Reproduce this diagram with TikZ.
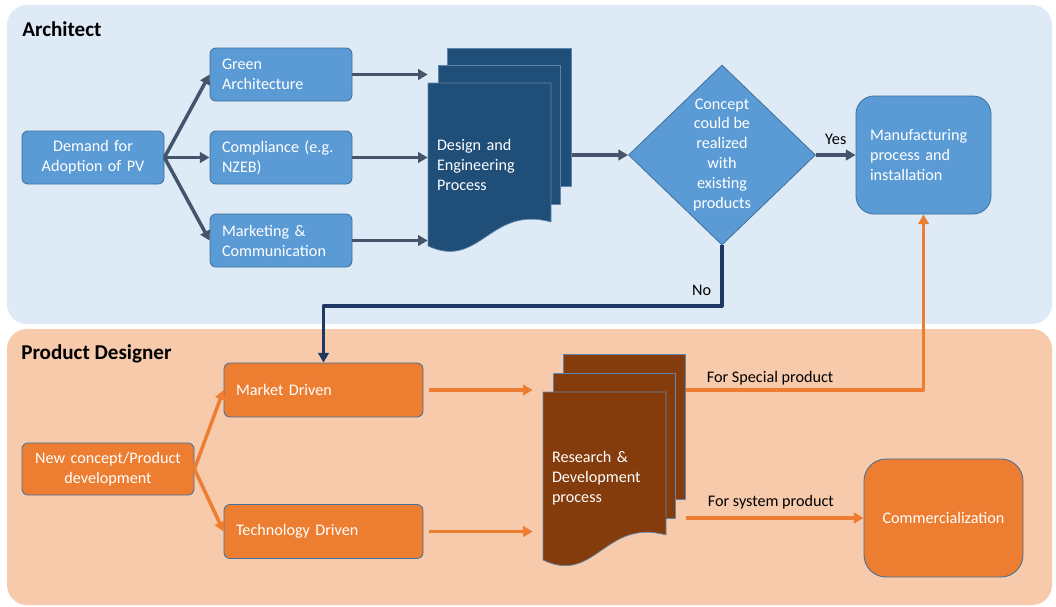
\documentclass[tikz,border=0pt]{standalone}
\usepackage{fontspec}
\setmainfont{Carlito}
\usetikzlibrary{arrows.meta,shapes.geometric}
\newlength{\px}\setlength{\px}{0.025cm}
\definecolor{archpanel}{HTML}{DEEAF6}
\definecolor{prodpanel}{HTML}{F7CAAC}
\definecolor{boxblue}{HTML}{5B9BD5}
\definecolor{boxline}{HTML}{41719C}
\definecolor{sheetblue}{HTML}{1F4E79}
\definecolor{sheetbrown}{HTML}{843C0C}
\definecolor{flowgray}{HTML}{44546A}
\definecolor{flownavy}{HTML}{1F3864}
\definecolor{floworange}{HTML}{ED7D31}
\tikzset{
  txt/.style={font=\fontsize{11.5}{14.2}\selectfont},
  archbox/.style={txt, draw=boxline, fill=boxblue, text=white, line width=0.6pt,
    rounded corners=6\px, inner xsep=12\px, inner ysep=0pt},
  prodbox/.style={archbox, fill=floworange},
  sheet/.style={draw=boxline!85, line width=0.5pt, anchor=north west, inner sep=0pt},
  archflow/.style={draw=flowgray, line width=2.5pt, -{Triangle[length=0.24cm, width=0.26cm]}},
  prodflow/.style={archflow, draw=floworange},
  noflow/.style={archflow, draw=flownavy, line width=2.8pt},
  title/.style={font=\fontsize{15}{18}\selectfont\bfseries, anchor=base west, inner sep=0pt}
}
\begin{document}
\begin{tikzpicture}[x=0.025cm, y=-0.025cm, line join=round]
  \useasboundingbox (0,0) rectangle (1056,606);
  % los fondos
  \fill[archpanel, rounded corners=0.5cm] (7,5) rectangle (1052,324);
  \fill[prodpanel, rounded corners=0.5cm] (7,329) rectangle (1052,605);
  \node[title] (archtitle) at (22,36) {Architect};
  \node[title] (prodtitle) at (21,359) {Product Designer};
  % arquitecto: las cajas
  \node[archbox, text width=118\px, align=center, minimum height=53\px] (demand) at (93,157.5) {Demand for\\Adoption of PV};
  \node[archbox, text width=118\px, align=left, minimum height=53\px] (green) at (281,74.5) {Green\\Architecture};
  \node[archbox, text width=118\px, align=left, minimum height=53\px] (comply) at (281,157.5) {Compliance (e.g.\\NZEB)};
  \node[archbox, text width=118\px, align=left, minimum height=53\px] (marketing) at (281,240.5) {Marketing \&\\Communication};
  % las hojas del proceso de diseño
  \node[sheet, fill=sheetblue, minimum width=124\px, minimum height=138\px] (designback) at (447,48) {};
  \node[sheet, fill=sheetblue, minimum width=122\px, minimum height=139\px] (designmid) at (438,65) {};
  \filldraw[sheet, fill=sheetblue] (428,83) -- (551,83) -- (551,222)
    .. controls (490,205) and (480,270) .. (428,246) -- cycle;
  \node[txt, text=white, text width=105\px, align=left, minimum width=123\px, inner xsep=9\px] (design) at (489.5,165) {Design and\\Engineering\\Process};
  % la decisión y la fabricación
  \node[txt, diamond, aspect=1, draw=boxline, fill=boxblue, text=white, line width=0.6pt, inner sep=0pt,
    minimum width=187\px, minimum height=180\px, align=center] (concept) at (722,155)
    {Concept\\could be\\realized\\with\\existing\\products};
  \node[archbox, rounded corners=18\px, text width=107\px, inner xsep=14\px, align=left, minimum height=118\px] (manuf) at (923.5,155) {Manufacturing\\process and\\installation};
  % diseñador de producto: las cajas
  \node[prodbox, text width=156\px, inner xsep=8\px, align=center, minimum height=52\px] (newconcept) at (108,469) {New concept/Product\\development};
  \node[prodbox, text width=175\px, align=left, minimum height=54\px] (market) at (323.5,390) {Market Driven};
  \node[prodbox, text width=175\px, align=left, minimum height=54\px] (tech) at (323.5,531.5) {Technology Driven};
  % las hojas de investigación
  \node[sheet, fill=sheetbrown, minimum width=122\px, minimum height=145\px] (rdback) at (563,354) {};
  \node[sheet, fill=sheetbrown, minimum width=122\px, minimum height=145\px] (rdmid) at (553,373) {};
  \filldraw[sheet, fill=sheetbrown] (543,392) -- (666,392) -- (666,535)
    .. controls (605,518) and (595,585) .. (543,560) -- cycle;
  \node[txt, text=white, text width=105\px, align=left, minimum width=123\px, inner xsep=9\px] (research) at (604.5,478) {Research \&\\Development\\process};
  \node[prodbox, rounded corners=22\px, text width=135\px, align=center, minimum height=118\px] (commerc) at (943.5,518) {Commercialization};
  % las flechas de arriba
  \draw[archflow] (demand.east) -- (green.west);
  \draw[archflow] (demand.east) -- (comply.west);
  \draw[archflow] (demand.east) -- (marketing.west);
  \draw[archflow] (green.east) -- (green.east -| design.west);
  \draw[archflow] (comply.east) -- (comply.east -| design.west);
  \draw[archflow] (marketing.east) -- (marketing.east -| design.west);
  \draw[archflow] (designback.east |- concept.west) -- (concept.west);
  \draw[archflow] (concept.east) -- node[txt, above=0.1cm] (yes) {Yes} (manuf.west);
  \coordinate (noturn) at (722,306);
  \draw[noflow] (concept.south) -- (noturn) -| (market.north);
  \node[txt, anchor=east] (no) at (716,290) {No};
  % las flechas de abajo
  \draw[prodflow] (newconcept.east) -- (market.west);
  \draw[prodflow] (newconcept.east) -- (tech.west);
  \draw[prodflow, shorten <=0.15cm, shorten >=0.25cm] (market.east) -- (market.east -| research.west);
  \draw[prodflow, shorten <=0.15cm, shorten >=0.25cm] (tech.east) -- (tech.east -| research.west);
  \draw[prodflow] (rdback.east |- market.east) -| (manuf.south);
  \draw[prodflow] (rdback.east |- commerc.west) -- (commerc.west);
  \node[txt, anchor=west] (special) at (702,378) {For Special product};
  \node[txt, anchor=west] (system) at (703,502) {For system product};
\end{tikzpicture}
\end{document}
